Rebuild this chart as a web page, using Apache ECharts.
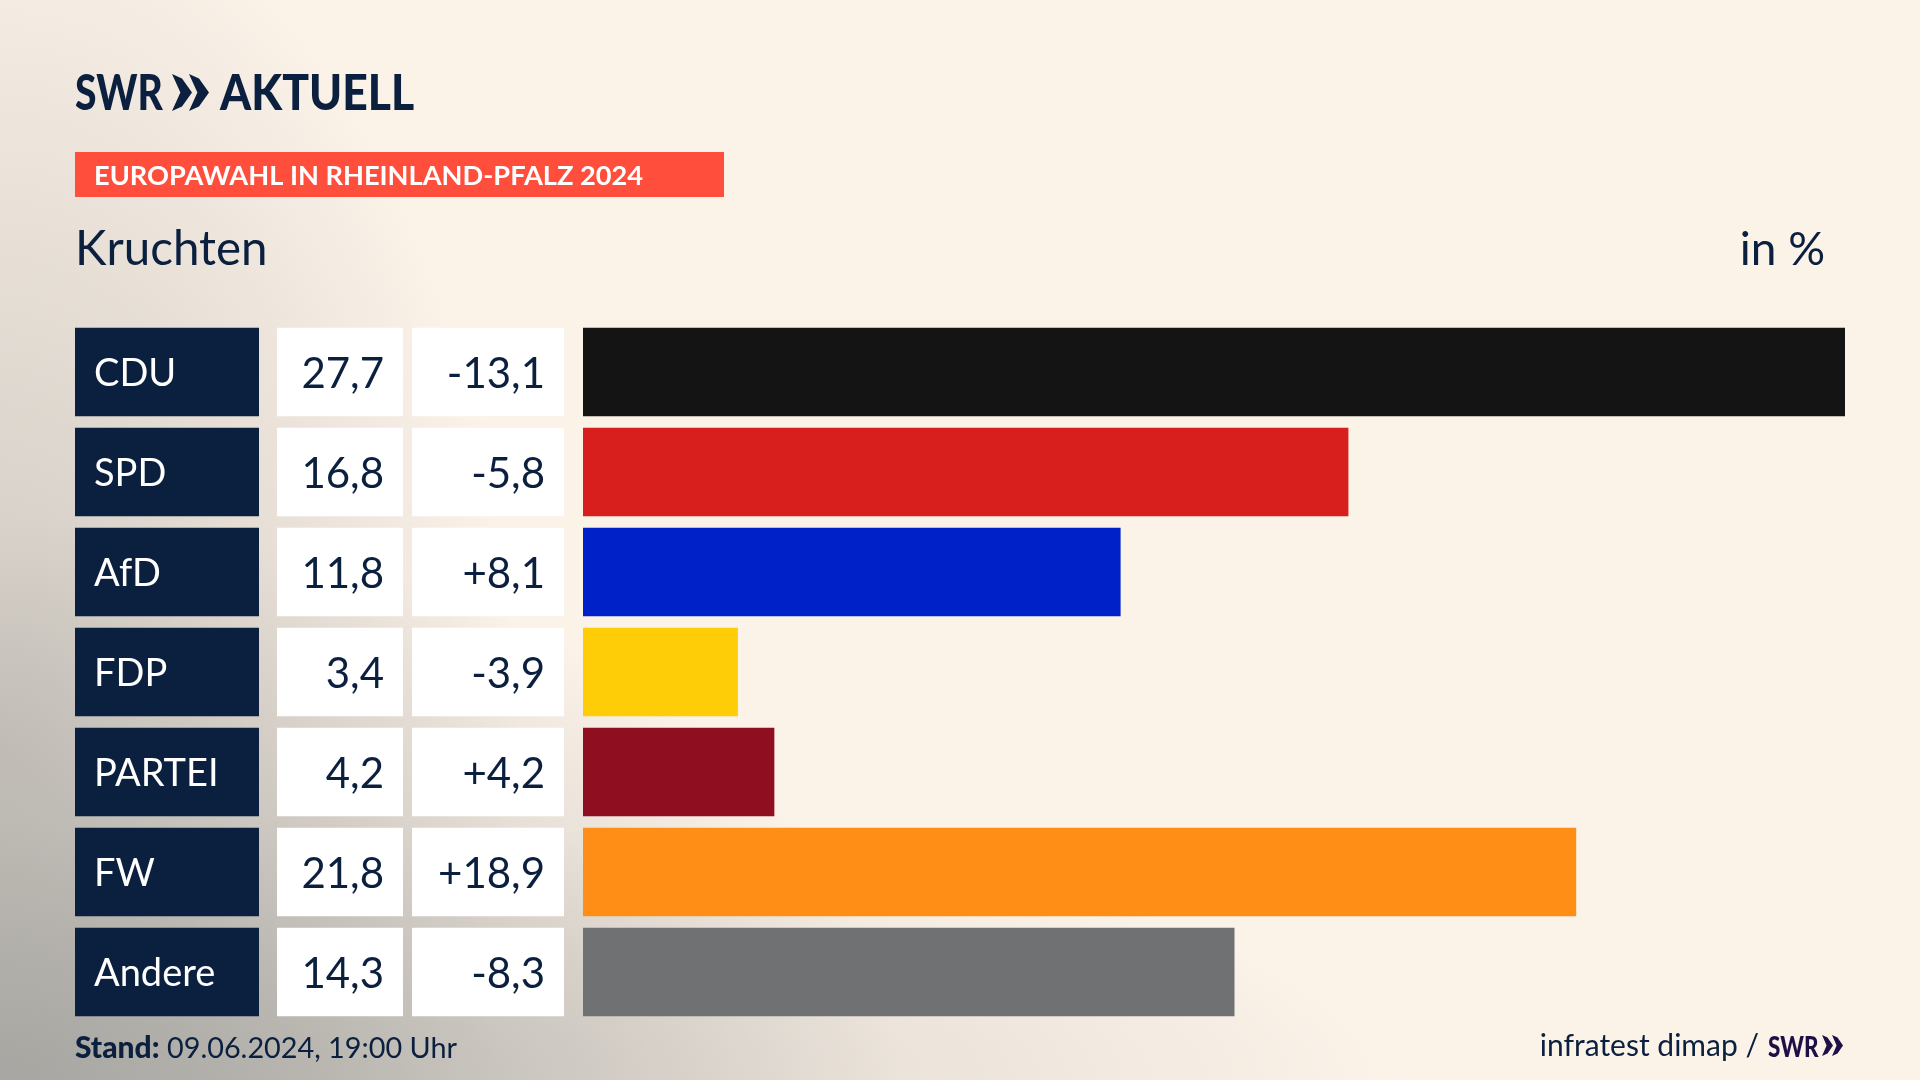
<html>
    <head>
        <meta charset="utf-8">
        <script src="https://cdn.jsdelivr.net/npm/echarts@6/dist/echarts.min.js"></script>
    </head>
    <body>
        <style>
            html, body, #main {
                width: 100%;
                height: 100%;
                margin: 0;
            }
            body {
                background-color: #fbf2e8;
                background-image:
                    radial-gradient(ellipse 900px 560px at 0 100%, rgba(160,160,156,.85) 0%, rgba(170,168,164,.45) 50%, rgba(190,186,180,0) 100%),
                    radial-gradient(ellipse 1150px 260px at 250px 100%, rgba(190,186,180,.6) 0%, rgba(190,186,180,0) 100%),
                    radial-gradient(ellipse 520px 900px at 0 70%, rgba(180,176,170,.65) 0%, rgba(180,176,170,0) 100%);
            }
        </style>
        <div id="main"></div>
        <script>

        var parties = ['CDU', 'SPD', 'AfD', 'FDP', 'PARTEI', 'FW', 'Andere'];
        var shares = [27.7, 16.8, 11.8, 3.4, 4.2, 21.8, 14.3];
        var changes = [-13.1, -5.8, 8.1, -3.9, 4.2, 18.9, -8.3];
        var barColors = ['#141414', '#d81f1d', '#0020c8', '#ffcc08', '#8f0e20', '#ff8e16', '#707173'];

        var navy = '#0b1f3f';
        var fontName = 'Lato';

        function comma(v) {
            return Math.abs(v).toFixed(1).replace('.', ',');
        }
        function formatShare(v) {
            return comma(v);
        }
        function formatChange(v) {
            return (v > 0 ? '+' : '-') + comma(v);
        }

        // one grid per table column, all sharing the same row layout
        var columns = [
            {left: 75, width: 184, fill: navy, color: '#fff', pos: 'insideLeft', dist: 19, size: 38, text: function (i) { return parties[i]; }},
            {left: 277, width: 126, fill: '#fff', color: navy, pos: 'insideRight', dist: 19, size: 42, text: function (i) { return formatShare(shares[i]); }},
            {left: 412, width: 152, fill: '#fff', color: navy, pos: 'insideRight', dist: 19, size: 42, text: function (i) { return formatChange(changes[i]); }}
        ];

        var grids = [], xAxes = [], yAxes = [], series = [];

        function addColumn(left, width, max) {
            var idx = grids.length;
            grids.push({left: left, width: width, top: 322, height: 700, containLabel: false});
            xAxes.push({type: 'value', gridIndex: idx, min: 0, max: max, show: false});
            yAxes.push({type: 'category', gridIndex: idx, data: parties, inverse: true, show: false});
            return idx;
        }

        columns.forEach(function (col) {
            var idx = addColumn(col.left, col.width, 1);
            series.push({
                type: 'bar',
                xAxisIndex: idx,
                yAxisIndex: idx,
                barWidth: '88.5%',
                silent: true,
                data: parties.map(function () { return 1; }),
                itemStyle: {color: col.fill},
                label: {
                    show: true,
                    position: col.pos,
                    distance: col.dist,
                    offset: [0, 2],
                    color: col.color,
                    fontFamily: fontName,
                    fontSize: col.size,
                    formatter: function (p) { return col.text(p.dataIndex); }
                }
            });
        });

        var barIdx = addColumn(583, 1262, Math.max.apply(null, shares));
        series.push({
            type: 'bar',
            xAxisIndex: barIdx,
            yAxisIndex: barIdx,
            barWidth: '88.5%',
            silent: true,
            data: shares.map(function (v, i) {
                return {value: v, itemStyle: {color: barColors[i]}};
            })
        });

        function chevrons(x, y, h, w, gap, color) {
            var items = [];
            for (var k = 0; k < 2; k++) {
                var x0 = x + k * gap;
                items.push({
                    type: 'polygon',
                    silent: true,
                    shape: {points: [[x0, y], [x0 + w * 0.5, y + h * 0.12], [x0 + w, y + h / 2], [x0 + w * 0.5, y + h * 0.88], [x0, y + h], [x0 + w * 0.42, y + h / 2]]},
                    style: {fill: color}
                });
            }
            return items;
        }

        // y is the text baseline
        function text(x, y, str, size, weight, color, align, sx) {
            return {
                type: 'text',
                silent: true,
                x: x,
                y: y - size * 0.34,
                scaleX: sx || 1,
                style: {
                    text: str,
                    x: 0,
                    y: 0,
                    fontFamily: fontName,
                    fontSize: size,
                    fontWeight: weight,
                    fill: color,
                    align: align || 'left',
                    verticalAlign: 'middle'
                }
            };
        }

        var graphics = [
            text(75, 111, 'SWR', 50, 900, navy, 'left', 0.78),
            text(220, 111, 'AKTUELL', 50, 900, navy, 'left', 0.89),
            {type: 'rect', silent: true, shape: {x: 75, y: 152, width: 649, height: 45}, style: {fill: '#ff4f3c'}},
            text(94, 185, 'EUROPAWAHL IN RHEINLAND-PFALZ 2024', 27.2, 700, '#fff'),
            text(75, 266, 'Kruchten', 47.5, 400, navy),
            text(1825, 266, 'in %', 46, 400, navy, 'right'),
            text(75, 1059, 'Stand:', 30, 900, navy),
            text(167, 1059, '09.06.2024, 19:00 Uhr', 28.8, 400, navy),
            text(1759, 1057, 'infratest dimap /', 30, 400, navy, 'right'),
            text(1768, 1057, 'SWR', 28, 900, '#1e0f46', 'left', 0.8)
        ].concat(chevrons(172, 74, 37, 20, 17, navy), chevrons(1822, 1035, 21, 11, 10, '#1e0f46'));

        var chart = echarts.init(document.getElementById('main'));

        chart.setOption({
            animation: false,
            grid: grids,
            xAxis: xAxes,
            yAxis: yAxes,
            series: series,
            graphic: graphics
        });

        </script>
    </body>
</html>
